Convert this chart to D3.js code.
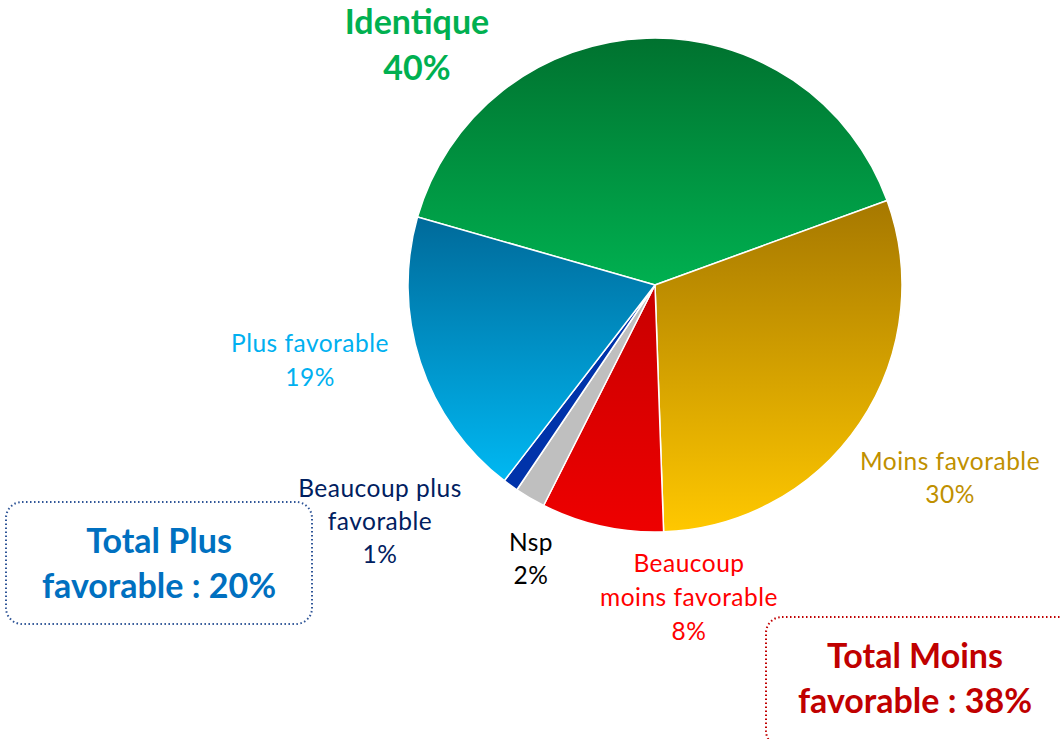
<!DOCTYPE html>
<html>
<head>
<meta charset="utf-8">
<script src="https://cdn.jsdelivr.net/npm/d3@7"></script>
<style>
  body { margin: 0; background: #fff; }
  svg { display: block; font-family: Lato, "Open Sans", sans-serif; }
</style>
</head>
<body>
<svg id="pie" width="1060" height="739"></svg>
<script>
// data
var categories = ["Identique", "Moins favorable", "Beaucoup moins favorable", "Nsp", "Beaucoup plus favorable", "Plus favorable"]
var values = [40, 30, 8, 2, 1, 19]
var topColors = ["#00722F", "#A67800", "#C80000", "#BFBFBF", "#0033AA", "#006A9A"]
var bottomColors = ["#00B050", "#FFC800", "#EE0000", "#BFBFBF", "#0033AA", "#00B8F2"]
var labelLines = [["Identique", "40%"], ["Moins favorable", "30%"], ["Beaucoup", "moins favorable", "8%"], ["Nsp", "2%"], ["Beaucoup plus", "favorable", "1%"], ["Plus favorable", "19%"]]
var labelColors = ["#00B050", "#BF9000", "#FF0000", "#000000", "#002060", "#00B0F0"]
var totals = [["Total Plus", "favorable : 20%"], ["Total Moins", "favorable : 38%"]]
var totalColors = ["#0070C0", "#C00000"]
var totalStroke = ["#2F5597", "#C00000"]

var dimensions = {
    width: 1060,
    height: 739,
    cx: 655,
    cy: 285,
    radius: 247
}

var svg = d3.select("#pie")
var defs = svg.append("defs")

categories.forEach(function (c, i) {
    var g = defs.append("linearGradient")
        .attr("id", "grad" + i)
        .attr("x1", 0).attr("y1", 0).attr("x2", 0).attr("y2", 1)
    g.append("stop").attr("offset", "0%").attr("stop-color", topColors[i])
    g.append("stop").attr("offset", "100%").attr("stop-color", bottomColors[i])
})

var pie = d3.pie()
    .sort(null)
    .value(d => d)
    .startAngle(-74 * Math.PI / 180)
    .endAngle(286 * Math.PI / 180)

var arc = d3.arc()
    .innerRadius(0)
    .outerRadius(dimensions.radius)

var pieG = svg.append("g")
    .attr("transform", `translate(${dimensions.cx},${dimensions.cy})`)

pieG.selectAll("path")
    .data(pie(values))
    .enter()
    .append("path")
    .attr("d", arc)
    .attr("fill", (d, i) => `url(#grad${i})`)
    .attr("stroke", "#fff")
    .attr("stroke-width", 1.5)
    .attr("stroke-linejoin", "round")

// slice labels (positions picked to match the original layout)
var labelPos = [[417, 34, 46, 34, "bold"], [950, 470, 33, 24.5, "normal"], [689, 572, 34, 24.5, "normal"],
                [531, 551, 33, 24.5, "normal"], [380, 497, 33, 24.5, "normal"], [310, 352, 34, 24.5, "normal"]]

labelLines.forEach(function (lines, i) {
    var p = labelPos[i]
    var t = svg.append("text")
        .attr("text-anchor", "middle")
        .attr("fill", labelColors[i])
        .attr("font-size", p[3])
        .attr("font-weight", p[4])
        .attr("letter-spacing", p[4] == "bold" ? 0 : 0.5)
    lines.forEach(function (l, j) {
        t.append("tspan")
            .attr("x", p[0])
            .attr("y", p[1] + j * p[2])
            .text(l)
    })
})

// total boxes
var boxes = [[6, 502, 306, 122, 159, 553], [766, 617, 310, 130, 915, 668]]
boxes.forEach(function (b, i) {
    svg.append("rect")
        .attr("x", b[0]).attr("y", b[1])
        .attr("width", b[2]).attr("height", b[3])
        .attr("rx", 16)
        .attr("fill", "none")
        .attr("stroke", totalStroke[i])
        .attr("stroke-width", 2)
        .attr("stroke-dasharray", "1.5 2.5")
    var t = svg.append("text")
        .attr("text-anchor", "middle")
        .attr("fill", totalColors[i])
        .attr("font-size", 34)
        .attr("font-weight", "bold")
    totals[i].forEach(function (l, j) {
        t.append("tspan")
            .attr("x", b[4])
            .attr("y", b[5] + j * 45)
            .text(l)
    })
})
</script>
</body>
</html>
